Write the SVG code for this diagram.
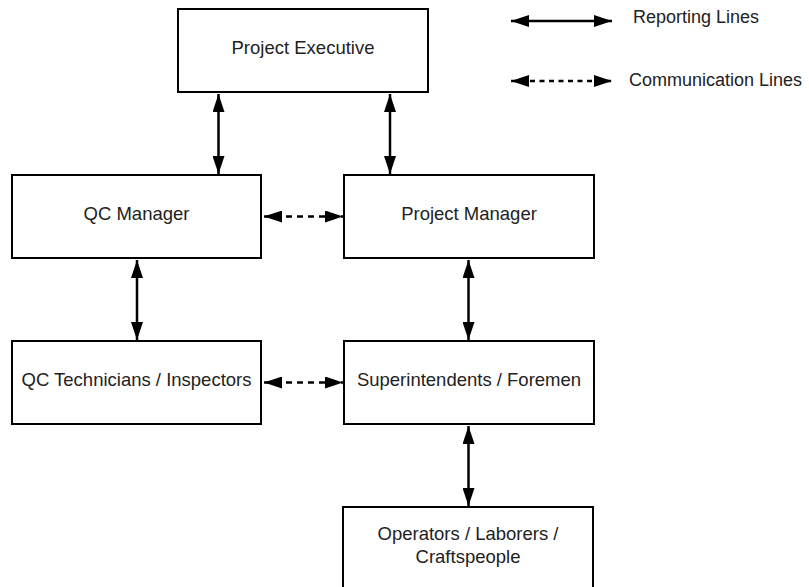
<svg xmlns="http://www.w3.org/2000/svg" width="809" height="587" viewBox="0 0 809 587">
<style>
.box{fill:#fff;stroke:#000;stroke-width:2}
.lbl{font-family:"Liberation Sans",Arial,sans-serif;font-size:18.5px;fill:#222;text-anchor:middle}
.leg{font-family:"Liberation Sans",Arial,sans-serif;font-size:18px;fill:#222}
.rep{stroke:#000;stroke-width:2.5;fill:none}
.com{stroke:#000;stroke-width:2.5;fill:none;stroke-dasharray:6 5}
</style>
<defs>
<marker id="ah" markerUnits="userSpaceOnUse" markerWidth="18" markerHeight="12" refX="18" refY="6" orient="auto-start-reverse" viewBox="0 0 18 12">
<path d="M0,0 L18,6 L0,12 z" fill="#000"/>
</marker>
</defs>
<rect width="809" height="587" fill="#fff"/>
<g id="connectors">
<line class="rep" x1="218.5" y1="94" x2="218.5" y2="174" marker-start="url(#ah)" marker-end="url(#ah)"/>
<line class="rep" x1="390" y1="94" x2="390" y2="174" marker-start="url(#ah)" marker-end="url(#ah)"/>
<line class="rep" x1="137" y1="260" x2="137" y2="340" marker-start="url(#ah)" marker-end="url(#ah)"/>
<line class="rep" x1="468.5" y1="260" x2="468.5" y2="340" marker-start="url(#ah)" marker-end="url(#ah)"/>
<line class="rep" x1="468.5" y1="426" x2="468.5" y2="506" marker-start="url(#ah)" marker-end="url(#ah)"/>
<line class="com" x1="264" y1="216.5" x2="343" y2="216.5" marker-start="url(#ah)" marker-end="url(#ah)"/>
<line class="com" x1="264" y1="382.5" x2="343" y2="382.5" marker-start="url(#ah)" marker-end="url(#ah)"/>
</g>
<g id="legend">
<line class="rep" x1="511" y1="21" x2="612" y2="21" marker-start="url(#ah)" marker-end="url(#ah)"/>
<text class="leg" x="633" y="23">Reporting Lines</text>
<line class="com" x1="511" y1="81" x2="612" y2="81" style="stroke-dasharray:5 4.5" marker-start="url(#ah)" marker-end="url(#ah)"/>
<text class="leg" x="629" y="86">Communication Lines</text>
</g>
<g id="project-executive">
<rect class="box" x="178" y="9" width="250" height="83"/>
<text class="lbl" x="303" y="54">Project Executive</text>
</g>
<g id="qc-manager">
<rect class="box" x="12" y="175" width="249" height="83"/>
<text class="lbl" x="136.5" y="220">QC Manager</text>
</g>
<g id="project-manager">
<rect class="box" x="344" y="175" width="250" height="83"/>
<text class="lbl" x="469" y="220">Project Manager</text>
</g>
<g id="qc-technicians">
<rect class="box" x="12" y="341" width="249" height="83"/>
<text class="lbl" x="136.5" y="386">QC Technicians / Inspectors</text>
</g>
<g id="superintendents">
<rect class="box" x="344" y="341" width="250" height="83"/>
<text class="lbl" x="469" y="386">Superintendents / Foremen</text>
</g>
<g id="operators">
<rect class="box" x="343" y="507" width="250" height="83"/>
<text class="lbl" x="468" y="540">Operators / Laborers /</text>
<text class="lbl" x="468" y="563">Craftspeople</text>
</g>
</svg>
